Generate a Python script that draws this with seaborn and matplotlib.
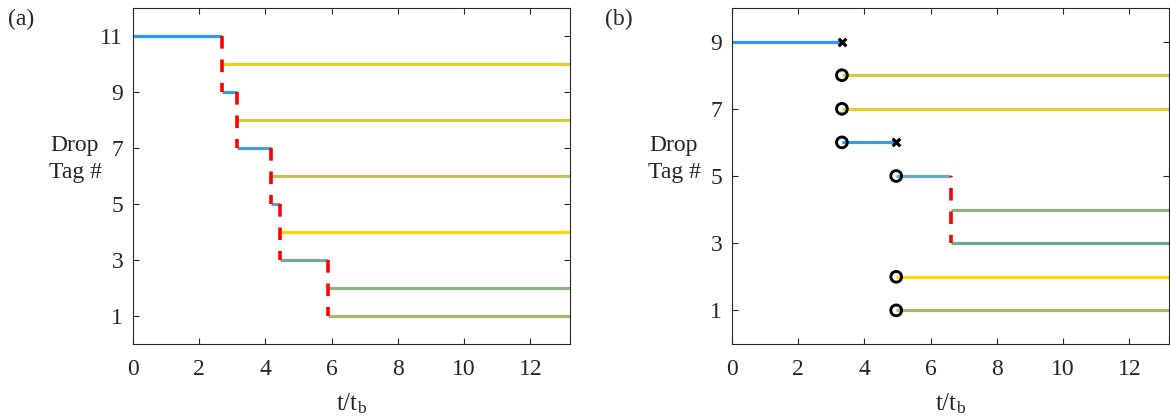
import numpy as np
import pandas as pd
import matplotlib
matplotlib.use("Agg")
import matplotlib.pyplot as plt
import seaborn as sns

# ---------------- data ----------------
# Panel (a)
a_tags = [11, 10, 9, 8, 7, 6, 5, 4, 3, 2, 1]
a_start = [0.0, 2.68, 2.68, 3.15, 3.15, 4.17, 4.17, 4.44, 4.44, 5.89, 5.89]
a_end = [2.68, 13.2, 3.15, 13.2, 4.17, 13.2, 4.44, 13.2, 5.89, 13.2, 13.2]
a_colors = ["#2E96FF", "#E6CE2C", "#3C9CE2", "#D2C842", "#4A9CD2", "#C2C25C",
            "#5CA2BA", "#FFD500", "#78A89A", "#8EB282", "#9EBA6C"]
a_split_t = [2.68, 3.15, 4.17, 4.44, 5.89]
a_split_from = [11, 9, 7, 5, 3]
a_split_to = [9, 7, 5, 3, 1]

# Panel (b)
b_tags = [9, 8, 7, 6, 5, 4, 3, 2, 1]
b_start = [0.0, 3.32, 3.32, 3.32, 4.96, 6.6, 6.6, 4.96, 4.96]
b_end = [3.32, 13.2, 13.2, 4.96, 6.6, 13.2, 13.2, 13.2, 13.2]
b_colors = ["#2E96FF", "#D2C842", "#E6CE2C", "#3C9CE2", "#6AAAC8",
            "#8EB282", "#6FA89A", "#FFD500", "#A8BA6C"]
b_split_t = [6.6]
b_split_from = [5]
b_split_to = [3]
b_circle_t = [3.32, 3.32, 3.32, 4.96, 4.96, 4.96]
b_circle_tag = [8, 7, 6, 5, 2, 1]
b_cross_t = [3.32, 4.96]
b_cross_tag = [9, 6]

a_yticks = [1, 3, 5, 7, 9, 11]
b_yticks = [1, 3, 5, 7, 9]
xticks = [0, 2, 4, 6, 8, 10, 12]

# ---------------- style ----------------
sns.set_style("ticks")
plt.rcParams["font.family"] = ["Liberation Serif", "DejaVu Serif"]
plt.rcParams["mathtext.fontset"] = "custom"
plt.rcParams["mathtext.rm"] = "Liberation Serif"
plt.rcParams["mathtext.it"] = "Liberation Serif"
plt.rcParams["text.color"] = "#262626"
FS = 17

fig = plt.figure(figsize=(11.7, 4.19), dpi=100)
ax_a = fig.add_axes([133 / 1170, 1 - 344 / 419, 437 / 1170, 336 / 419])
ax_b = fig.add_axes([732 / 1170, 1 - 344 / 419, 437 / 1170, 336 / 419])


def seg_frame(tags, starts, ends):
    rows = []
    for tg, s, e in zip(tags, starts, ends):
        rows.append({"seg": tg, "t": s, "tag": tg})
        rows.append({"seg": tg, "t": e, "tag": tg})
    return pd.DataFrame(rows)


def split_frame(ts, frm, to):
    rows = []
    for i, (t, f, g) in enumerate(zip(ts, frm, to)):
        rows.append({"sid": i, "t": t, "tag": f})
        rows.append({"sid": i, "t": t, "tag": g})
    return pd.DataFrame(rows)


def draw(ax, tags, starts, ends, colors, sts, sfrom, sto, yticks, ylim,
         dash_offset):
    df = seg_frame(tags, starts, ends)
    pal = dict(zip(tags, colors))
    sns.lineplot(data=df, x="t", y="tag", hue="seg", palette=pal, units="seg",
                 estimator=None, sort=False, legend=False, lw=2.3, ax=ax,
                 solid_capstyle="butt", zorder=2)
    sdf = split_frame(sts, sfrom, sto)
    sns.lineplot(data=sdf, x="t", y="tag", units="sid", estimator=None,
                 sort=False, legend=False, color="#FF0000", lw=2.6, ax=ax,
                 zorder=3)
    n = len(tags)
    for ln in ax.lines[n:]:
        ln.set_linestyle((dash_offset, (3.5, 3.0)))
        ln.set_dash_capstyle("butt")
    ax.set_xlim(0, 13.2)
    ax.set_ylim(*ylim)
    ax.set_xticks(xticks)
    ax.set_yticks(yticks)
    ax.tick_params(direction="in", top=True, right=True, length=4, width=0.8,
                   labelsize=FS, colors="#262626")
    ax.tick_params(axis="x", pad=11)
    ax.tick_params(axis="y", pad=7)
    for sp in ax.spines.values():
        sp.set_visible(True)
        sp.set_color("#262626")
        sp.set_linewidth(0.8)


draw(ax_a, a_tags, a_start, a_end, a_colors, a_split_t, a_split_from,
     a_split_to, a_yticks, (0, 12), 0)
draw(ax_b, b_tags, b_start, b_end, b_colors, b_split_t, b_split_from,
     b_split_to, b_yticks, (0, 10), 3.2)

cdf = pd.DataFrame({"t": b_circle_t, "tag": b_circle_tag})
sns.scatterplot(data=cdf, x="t", y="tag", marker="o", s=60, facecolor="none",
                edgecolor="black", linewidth=2.1, ax=ax_b, zorder=5,
                legend=False)
xdf = pd.DataFrame({"t": b_cross_t, "tag": b_cross_tag})
sns.scatterplot(data=xdf, x="t", y="tag", marker="x", s=30, color="black",
                linewidth=2.3, ax=ax_b, zorder=5, legend=False)

for ax in (ax_a, ax_b):
    ax.set_xlabel(r"t/t$_{\mathrm{b}}$", fontsize=FS + 1, labelpad=8)
    ax.set_ylabel("Drop\nTag #", fontsize=FS, rotation=0, ha="center",
                  va="center", multialignment="center", linespacing=1.35)
    ax.yaxis.set_label_coords(-58 / 437, 1 - (159 - 8) / 336)

fig.text(8 / 1170, 1 - 9 / 419, "(a)", fontsize=FS, va="top", ha="left")
fig.text(605 / 1170, 1 - 9 / 419, "(b)", fontsize=FS, va="top", ha="left")

fig.savefig("out.png", dpi=100)
